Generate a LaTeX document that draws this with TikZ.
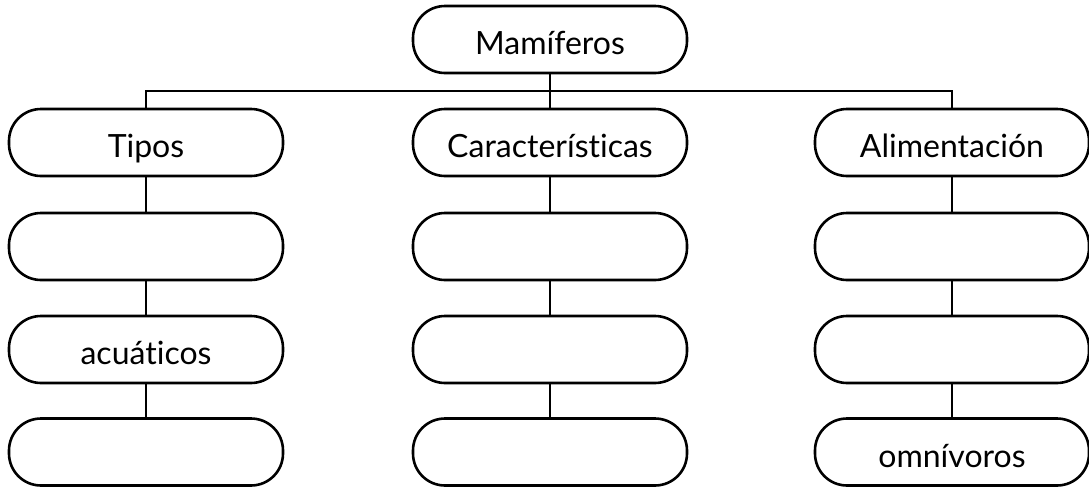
\documentclass[tikz,border=0pt]{standalone}
\usepackage{fontspec}
\setmainfont{Lato}[Ligatures=NoCommon]
\begin{document}
\begin{tikzpicture}[x=0.5pt, y=-0.5pt]
	\tikzstyle{box}=[rectangle, draw=black, line width=1.3pt, rounded corners=16pt, minimum width=137pt, minimum height=33.5pt, text height=15pt, text depth=0pt, font=\fontsize{16}{19}\selectfont]
	\useasboundingbox (0, 0) rectangle (1089, 488);
	\draw node[box] at (550, 39.5) (mam) {Mamíferos};
	\draw node[box] at (146, 142.5) (tip) {Tipos};
	\draw node[box] at (550, 142.5) (car) {Características};
	\draw node[box] at (952, 142.5) (ali) {Alimentación};
	\draw node[box] at (146, 246.5) (tip2) {};
	\draw node[box] at (550, 246.5) (car2) {};
	\draw node[box] at (952, 246.5) (ali2) {};
	\draw node[box] at (146, 349.5) (tip3) {acuáticos};
	\draw node[box] at (550, 349.5) (car3) {};
	\draw node[box] at (952, 349.5) (ali3) {};
	\draw node[box] at (146, 452) (tip4) {};
	\draw node[box] at (550, 452) (car4) {};
	\draw node[box] at (952, 452) (ali4) {omnívoros};
	\coordinate (bar) at (550, 91);

	\draw [line width=1.3pt]  (mam) -- (car);
	\draw [line width=1.3pt]  (tip.north) |- (bar) -| (ali.north);
	\draw [line width=1.3pt]  (tip) -- (tip2);
	\draw [line width=1.3pt]  (tip2) -- (tip3);
	\draw [line width=1.3pt]  (tip3) -- (tip4);
	\draw [line width=1.3pt]  (car) -- (car2);
	\draw [line width=1.3pt]  (car2) -- (car3);
	\draw [line width=1.3pt]  (car3) -- (car4);
	\draw [line width=1.3pt]  (ali) -- (ali2);
	\draw [line width=1.3pt]  (ali2) -- (ali3);
	\draw [line width=1.3pt]  (ali3) -- (ali4);
\end{tikzpicture}
\end{document}
